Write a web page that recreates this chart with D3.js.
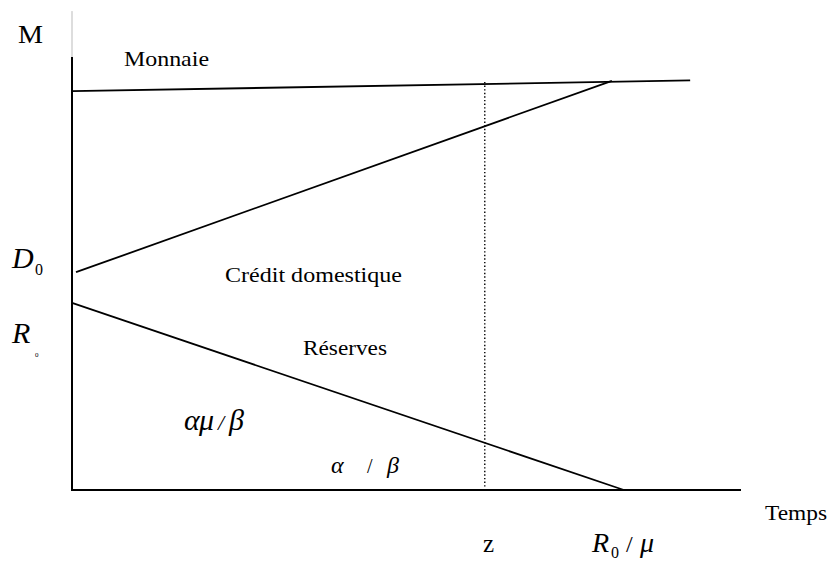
<!DOCTYPE html>
<html>
<head>
<meta charset="utf-8">
<title>Monnaie, crédit domestique et réserves</title>
<style>
  body{margin:0;background:#fff;}
  text{font-family:"Liberation Serif","Times New Roman",serif;fill:#000;}
  .it{font-style:italic;}
  .curve{fill:none;stroke:#000;stroke-width:1.8px;}
  .axis-line{fill:none;stroke:#000;stroke-width:2px;}
</style>
<script src="https://cdn.jsdelivr.net/npm/d3@7"></script>
</head>
<body>
<svg width="834" height="568"></svg>
<script>
// values (time 0..100, money 0..100)
var monnaie  = [{t:0, m:92.1}, {t:92.4, m:94.6}];
var credit   = [{t:0.6, m:50.3}, {t:80.7, m:94.5}];
var reserves = [{t:0, m:43.2}, {t:82.5, m:0}];
var zLine    = [{t:61.7, m:0.8}, {t:61.7, m:94.2}];

var svg = d3.select("svg");

var x = d3.scaleLinear().domain([0,100]).range([72,741]),
    y = d3.scaleLinear().domain([0,100]).range([490,57]);

var line = d3.line()
    .x(function(d){return x(d.t);})
    .y(function(d){return y(d.m);});

// axes
svg.append("line")
   .attr("x1",x(0)).attr("x2",x(0))
   .attr("y1",y(100)).attr("y2",y(110.6))
   .attr("stroke","#bbb").attr("stroke-width",1);

svg.append("path").attr("class","axis-line")
   .attr("d",line([{t:0,m:100},{t:0,m:0},{t:100,m:0}]));

// curves
[monnaie, credit, reserves].forEach(function(s){
  svg.append("path").attr("class","curve").attr("d",line(s));
});

svg.append("path")
   .attr("d",line(zLine))
   .attr("fill","none").attr("stroke","#000")
   .attr("stroke-width",1.4).attr("stroke-dasharray","1.4,2.2");

// labels
function label(txt,px,py,size,cls,len){
  var t = svg.append("text").attr("x",px).attr("y",py)
     .attr("font-size",size).text(txt);
  if(cls) t.attr("class",cls);
  if(len) t.attr("textLength",len).attr("lengthAdjust","spacingAndGlyphs");
  return t;
}

label("M",18,43,25,null,25);
label("Monnaie",124,66,21,null,85);
label("Crédit domestique",225,282,20,null,177);
label("Réserves",303,355,20,null,84);
label("Temps",765,520,22,null,62);
label("z",483,552,25);

// D0
label("D",12,268,30,"it");
label("0",35,275,16);
// R0 (left)
label("R",12,343,30,"it");
label("0",35,357,7);

// alpha mu / beta
label("α",184,430,30,"it");
label("μ",199,430,30,"it");
label("/",218,430,22,"it").attr("fill","#666");
label("β",229,430,30,"it");

// alpha / beta
label("α",331,473,24,"it");
label("/",367,473,20).attr("fill","#555");
label("β",387,473,24,"it");

// R0 / mu
label("R",592,552,28,"it");
label("0",611,558,16);
label("/",626,552,24);
label("μ",640,552,28,"it");
</script>
</body>
</html>
